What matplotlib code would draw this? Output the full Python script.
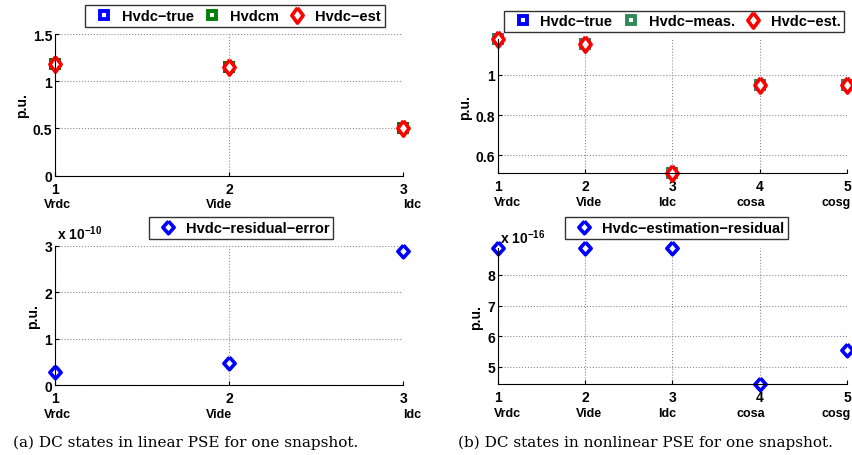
import matplotlib
matplotlib.use("Agg")
import matplotlib.pyplot as plt

plt.rcParams['font.family'] = ['Liberation Sans', 'DejaVu Sans']
plt.rcParams['font.weight'] = 'bold'
plt.rcParams['mathtext.fontset'] = 'custom'
plt.rcParams['mathtext.rm'] = 'Liberation Sans'

# (a) linear PSE, 3 DC states
lin_x = [1, 2, 3]
lin_names = ['Vrdc', 'Vide', 'Idc']
lin_true = [1.183, 1.148, 0.504]
lin_meas = [1.183, 1.148, 0.504]
lin_est = [1.183, 1.148, 0.504]
lin_resid = [0.29, 0.47, 2.88]      # x 1e-10

# (b) nonlinear PSE, 5 DC states
nl_x = [1, 2, 3, 4, 5]
nl_names = ['Vrdc', 'Vide', 'Idc', 'cosa', 'cosg']
nl_true = [1.18, 1.155, 0.51, 0.95, 0.95]
nl_meas = [1.18, 1.155, 0.51, 0.95, 0.95]
nl_est = [1.18, 1.155, 0.51, 0.95, 0.95]
nl_resid = [8.88, 8.88, 8.88, 4.44, 5.56]   # x 1e-16

# small horizontal nudges of the state names (points), as in the original
lin_name_dx = [1.5, -7, 6.5]
nl_name_dx = [7, 3, -4, -6.5, -8]

fig = plt.figure(figsize=(8.52, 4.56), dpi=100)

ax_tl = fig.add_axes([0.0646, 0.6125, 0.4085, 0.3107])
ax_tr = fig.add_axes([0.5845, 0.6184, 0.4096, 0.2939])
ax_bl = fig.add_axes([0.0646, 0.1535, 0.4085, 0.3055])
ax_br = fig.add_axes([0.5845, 0.1557, 0.4096, 0.2982])

tall_diamond = [(0, 1), (0.74, 0), (0, -1), (-0.74, 0), (0, 1)]
blue_diamond = [(0, 1), (0.9, 0), (0, -1), (-0.9, 0), (0, 1)]

sq = dict(marker='s', ms=5.8, mew=2.8, mfc='white', ls='none', clip_on=False)
red_dm = dict(marker=tall_diamond, ms=11, mew=2.6, mfc='white', ls='none', clip_on=False)
blue_dm = dict(marker=blue_diamond, ms=9, mew=2.6, mfc='white', ls='none', clip_on=False)


def style(ax, xs, names, offsets):
    ax.spines['top'].set_visible(False)
    ax.spines['right'].set_visible(False)
    ax.grid(True, ls=':', color='0.55', lw=0.8)
    ax.set_axisbelow(True)
    ax.set_xticks(xs)
    ax.set_xlim(xs[0], xs[-1])
    ax.tick_params(direction='in', length=3, labelsize=10)
    ax.tick_params(axis='x', pad=4.5)
    ax.tick_params(axis='y', pad=2)
    ax.set_ylabel('p.u.', fontsize=10, fontweight='bold', labelpad=3)
    for x, name, dx in zip(xs, names, offsets):
        ax.annotate(name, xy=(x, 0), xycoords=('data', 'axes fraction'),
                    xytext=(dx, -16.3), textcoords='offset points',
                    ha='center', va='top', fontsize=9, fontweight='bold')


def legend(ax, center):
    leg = ax.legend(loc='center', bbox_to_anchor=center, bbox_transform=fig.transFigure,
                    ncol=3, fontsize=10.5, frameon=True, fancybox=False,
                    handlelength=2.1, handletextpad=0.18, columnspacing=0.2,
                    borderpad=0.25, borderaxespad=0, numpoints=1)
    leg.get_frame().set_edgecolor('black')
    leg.get_frame().set_linewidth(1.0)
    return leg


# top left
ax_tl.plot(lin_x, lin_true, color='#0000ff', mec='#0000ff', label='Hvdc\u2212true', **sq)
ax_tl.plot(lin_x, lin_meas, color='#008000', mec='#008000', label='Hvdcm', **sq)
ax_tl.plot(lin_x, lin_est, color='#ff0000', mec='#ff0000', label='Hvdc\u2212est', **red_dm)
ax_tl.set_ylim(0, 1.5)
ax_tl.set_yticks([0, 0.5, 1, 1.5])
ax_tl.set_yticklabels(['0', '0.5', '1', '1.5'])
style(ax_tl, lin_x, lin_names, lin_name_dx)
legend(ax_tl, (0.2758, 0.9627))

# top right
ax_tr.plot(nl_x, nl_true, color='#0000ff', mec='#0000ff', label='Hvdc\u2212true', **sq)
ax_tr.plot(nl_x, nl_meas, color='#2e8b57', mec='#2e8b57', label='Hvdc\u2212meas.', **sq)
ax_tr.plot(nl_x, nl_est, color='#ff0000', mec='#ff0000', label='Hvdc\u2212est.', **red_dm)
ax_tr.set_ylim(min(nl_est), max(nl_est))
ax_tr.set_yticks([0.6, 0.8, 1.0])
ax_tr.set_yticklabels(['0.6', '0.8', '1'])
style(ax_tr, nl_x, nl_names, nl_name_dx)
legend(ax_tr, (0.791, 0.9507))

# bottom left
ax_bl.plot(lin_x, lin_resid, color='#0000ff', mec='#0000ff',
           label='Hvdc\u2212residual\u2212error', **blue_dm)
ax_bl.set_ylim(0, 3)
ax_bl.set_yticks([0, 1, 2, 3])
style(ax_bl, lin_x, lin_names, lin_name_dx)
legend(ax_bl, (0.2829, 0.4978))
ax_bl.text(0.005, 1.03, r'x 10$^{-10}$', transform=ax_bl.transAxes,
           ha='left', va='bottom', fontsize=10, fontweight='bold')

# bottom right
ax_br.plot(nl_x, nl_resid, color='#0000ff', mec='#0000ff',
           label='Hvdc\u2212estimation\u2212residual', **blue_dm)
ax_br.set_ylim(min(nl_resid), max(nl_resid))
ax_br.set_yticks([5, 6, 7, 8])
style(ax_br, nl_x, nl_names, nl_name_dx)
legend(ax_br, (0.794, 0.4978))
ax_br.text(0.005, 1.015, r'x 10$^{-16}$', transform=ax_br.transAxes,
           ha='left', va='bottom', fontsize=10, fontweight='bold')

fig.text(0.218, 0.028, '(a) DC states in linear PSE for one snapshot.',
         ha='center', va='center', fontsize=11, fontweight='normal',
         family='DejaVu Serif')
fig.text(0.757, 0.028, '(b) DC states in nonlinear PSE for one snapshot.',
         ha='center', va='center', fontsize=11, fontweight='normal',
         family='DejaVu Serif')

fig.savefig('out.png', dpi=100)
